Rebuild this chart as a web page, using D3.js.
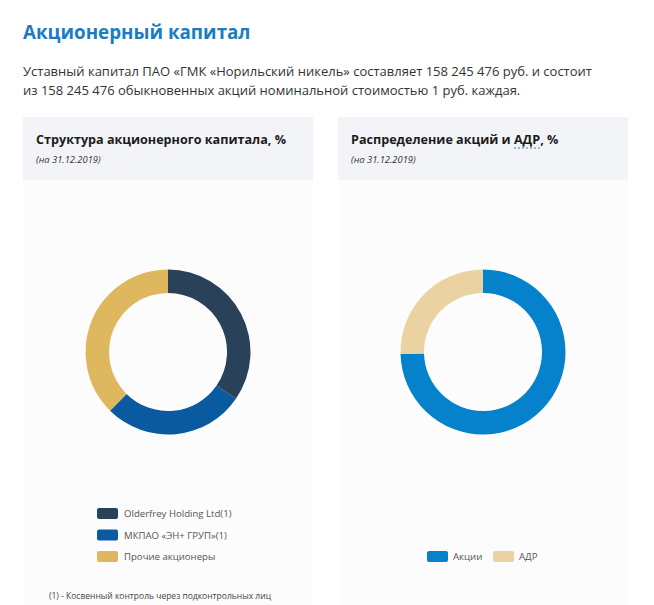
<!DOCTYPE html>
<html><head><meta charset="utf-8">
<script src="https://cdn.jsdelivr.net/npm/d3@7"></script>
<style>
html,body{margin:0;padding:0;background:#fff;}
svg{display:block;font-family:"Open Sans",Roboto,sans-serif;}
</style></head>
<body>
<svg id="c" width="654" height="605"></svg>
<script>
const capitalLabels = ["Olderfrey Holding Ltd(1)", "МКПАО «ЭН+ ГРУП»(1)", "Прочие акционеры"];
const capitalValues = [34.6, 27.8, 37.6];
const capitalColors = ["#2a4259", "#0a5aa0", "#dfb75f"];
const shareLabels = ["Акции", "АДР"];
const shareValues = [74.6, 25.4];
const shareColors = ["#0682cc", "#ead3a0"];

const svg = d3.select("#c");

svg.append("text").attr("x", 23).attr("y", 39).attr("fill", "#1a7cc1")
  .attr("font-size", 18.8).attr("font-weight", 700).text("Акционерный капитал");
svg.append("text").attr("x", 23).attr("y", 76).attr("fill", "#333")
  .attr("font-size", 13).text("Уставный капитал ПАО «ГМК «Норильский никель» составляет 158 245 476 руб. и состоит");
svg.append("text").attr("x", 23).attr("y", 95).attr("fill", "#333")
  .attr("font-size", 13).text("из 158 245 476 обыкновенных акций номинальной стоимостью 1 руб. каждая.");

const cards = [
  {x: 23, title: "Структура акционерного капитала, %", labels: capitalLabels, values: capitalValues, colors: capitalColors},
  {x: 338, title: "Распределение акций и АДР, %", labels: shareLabels, values: shareValues, colors: shareColors}
];
const cw = 290;

cards.forEach((c, i) => {
  const g = svg.append("g").attr("transform", `translate(${c.x},0)`);
  g.append("rect").attr("x", 0).attr("y", 180).attr("width", cw).attr("height", 425).attr("fill", "#fcfcfc");
  g.append("rect").attr("x", 0).attr("y", 117).attr("width", cw).attr("height", 63).attr("fill", "#f3f4f7");
  const t = g.append("text").attr("x", 13).attr("y", 144).attr("fill", "#1c1c1c")
    .attr("font-size", 12.6).attr("font-weight", 700).text(c.title);
  g.append("text").attr("x", 13).attr("y", 163).attr("fill", "#333")
    .attr("font-size", 9.4).attr("font-style", "italic").text("(на 31.12.2019)");
  if (i === 1) {
    const node = t.node();
    const idx = c.title.indexOf("АДР");
    const x0 = node.getSubStringLength(0, idx) + 13;
    const w = node.getSubStringLength(idx, 3);
    g.append("line").attr("x1", x0).attr("x2", x0 + w).attr("y1", 148).attr("y2", 148)
      .attr("stroke", "#1a7cc1").attr("stroke-width", 1).attr("stroke-dasharray", "2,2");
  }
  const pie = d3.pie().sort(null).value(d => d);
  const arc = d3.arc().innerRadius(59).outerRadius(82.5);
  const dg = g.append("g").attr("transform", `translate(${cw / 2},352)`);
  dg.selectAll("path").data(pie(c.values)).join("path")
    .attr("d", arc).attr("fill", (d, j) => c.colors[j]);
});

const lg1 = svg.append("g");
capitalLabels.forEach((l, j) => {
  const y = 508 + j * 21.5;
  lg1.append("rect").attr("x", 97).attr("y", y).attr("width", 21).attr("height", 11).attr("rx", 2)
    .attr("fill", capitalColors[j]);
  lg1.append("text").attr("x", 124).attr("y", y + 9).attr("fill", "#555").attr("font-size", 9.6).text(l);
});

const lg2 = svg.append("g");
const lx = [427, 493];
shareLabels.forEach((l, j) => {
  lg2.append("rect").attr("x", lx[j]).attr("y", 551).attr("width", 21).attr("height", 11).attr("rx", 2)
    .attr("fill", shareColors[j]);
  lg2.append("text").attr("x", lx[j] + 26).attr("y", 560).attr("fill", "#555").attr("font-size", 9.6).text(l);
});

svg.append("text").attr("x", 49).attr("y", 599).attr("fill", "#444").attr("font-size", 8.5)
  .text("(1) - Косвенный контроль через подконтрольных лиц");
</script>
</body></html>
